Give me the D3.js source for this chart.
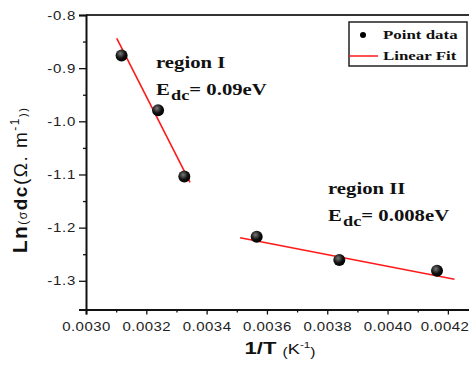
<!DOCTYPE html>
<html lang="en">
<head>
<meta charset="UTF-8">
<title>Ln sigma dc vs 1/T</title>
<script src="https://cdn.jsdelivr.net/npm/d3@7"></script>
<style>
  body { margin: 0; background: #fff; }
  svg { display: block; }
</style>
</head>
<body>
<svg id="chart"></svg>
<script>
// data
const xRegionI = [0.003118, 0.003239, 0.003326];
const yRegionI = [-0.876, -0.979, -1.104];
const xRegionII = [0.003566, 0.003840, 0.004164];
const yRegionII = [-1.217, -1.261, -1.281];
// ends of the two fitted lines
const fitIx = [0.003102, 0.003345];
const fitIy = [-0.844, -1.115];
const fitIIx = [0.003511, 0.004222];
const fitIIy = [-1.219, -1.297];
// ticks
const xTicks = [0.0030, 0.0032, 0.0034, 0.0036, 0.0038, 0.0040, 0.0042];
const xTickLabels = ["0.0030", "0.0032", "0.0034", "0.0036", "0.0038", "0.0040", "0.0042"];
const xMinor = [0.0031, 0.0033, 0.0035, 0.0037, 0.0039, 0.0041];
const yTicks = [-0.8, -0.9, -1.0, -1.1, -1.2, -1.3];
const yTickLabels = ["-0.8", "-0.9", "-1.0", "-1.1", "-1.2", "-1.3"];
const yMinor = [-0.85, -0.95, -1.05, -1.15, -1.25];

const W = 469, H = 366;
const svg = d3.select("#chart").attr("width", W).attr("height", H);

const x = d3.scaleLinear().domain([0.0030, 0.00428]).range([86, 472]);
const y = d3.scaleLinear().domain([-0.8, -1.354]).range([15, 309.5]);

// ball look for the points
const grad = svg.append("defs").append("radialGradient")
  .attr("id", "ball").attr("cx", "40%").attr("cy", "35%").attr("r", "65%");
grad.append("stop").attr("offset", "0%").attr("stop-color", "#777");
grad.append("stop").attr("offset", "60%").attr("stop-color", "#111");
grad.append("stop").attr("offset", "100%").attr("stop-color", "#000");

// frame top
svg.append("line").attr("x1", 86).attr("x2", 472).attr("y1", 15).attr("y2", 15)
  .attr("stroke", "#333").attr("stroke-width", 2);

const sx = 1.2; // the original looks stretched sideways

// x axis
const gx = svg.append("g").attr("transform", "translate(0," + y(-1.354) + ")");
gx.call(d3.axisBottom(x).tickValues(xTicks).tickSize(5).tickPadding(8)
  .tickFormat((d, i) => xTickLabels[i]));
gx.append("g").call(d3.axisBottom(x).tickValues(xMinor).tickSize(3).tickFormat(""))
  .select(".domain").remove();

// y axis
const gy = svg.append("g").attr("transform", "translate(" + x(0.0030) + ",0)");
gy.call(d3.axisLeft(y).tickValues(yTicks).tickSize(7).tickPadding(3)
  .tickFormat((d, i) => yTickLabels[i]));
gy.append("g").call(d3.axisLeft(y).tickValues(yMinor).tickSize(3).tickFormat(""))
  .select(".domain").remove();

svg.selectAll(".domain").attr("stroke", "#111").attr("stroke-width", 2);
svg.selectAll(".tick line").attr("stroke", "#111").attr("stroke-width", 1.3);

gx.selectAll(".tick text")
  .attr("font-family", "Arial, 'Liberation Sans', sans-serif")
  .attr("font-size", 12.5).attr("fill", "#222")
  .attr("letter-spacing", 0.4)
  .attr("transform", "scale(" + sx + ",1)");
// last label sits at the right edge of the picture
gx.selectAll(".tick text").filter((d, i) => i === xTicks.length - 1)
  .attr("text-anchor", "end").attr("x", 21 / sx);
gy.selectAll(".tick text")
  .attr("font-family", "Arial, 'Liberation Sans', sans-serif")
  .attr("font-size", 12.5).attr("fill", "#222")
  .attr("letter-spacing", 0.6)
  .attr("x", -10 / sx)
  .attr("transform", "scale(" + sx + ",1)");

// fitted lines
const line = d3.line().x(d => x(d[0])).y(d => y(d[1]));
[[fitIx, fitIy], [fitIIx, fitIIy]].forEach(function (f) {
  svg.append("path")
    .datum(d3.zip(f[0], f[1]))
    .attr("d", line)
    .attr("fill", "none")
    .attr("stroke", "#ff1a1a")
    .attr("stroke-width", 1.6);
});

// points
const pts = d3.zip(xRegionI.concat(xRegionII), yRegionI.concat(yRegionII));
svg.append("g").selectAll("circle")
  .data(pts)
  .enter().append("circle")
  .attr("cx", d => x(d[0]))
  .attr("cy", d => y(d[1]))
  .attr("r", 6)
  .attr("fill", "url(#ball)");

// annotations
const serif = "'Liberation Serif', 'Times New Roman', serif";
function note(tx, ty, build) {
  const t = svg.append("text")
    .attr("transform", "translate(" + tx + "," + ty + ") scale(1.22,1)")
    .attr("font-family", serif).attr("font-weight", "bold")
    .attr("font-size", 17).attr("fill", "#111");
  build(t);
}
note(156, 68, t => t.text("region I"));
note(156, 95, t => {
  t.append("tspan").text("E");
  t.append("tspan").attr("font-size", 15).attr("dy", 5).attr("dx", 1).text("dc");
  t.append("tspan").attr("dy", -5).text("= 0.09eV");
});
note(328, 194, t => t.text("region II"));
note(328, 221, t => {
  t.append("tspan").text("E");
  t.append("tspan").attr("font-size", 15).attr("dy", 5).attr("dx", 1).text("dc");
  t.append("tspan").attr("dy", -5).text("= 0.008eV");
});

// legend
const lg = svg.append("g");
lg.append("rect").attr("x", 349).attr("y", 22).attr("width", 118).attr("height", 44)
  .attr("fill", "#fff").attr("stroke", "#222").attr("stroke-width", 1.5);
lg.append("circle").attr("cx", 363).attr("cy", 35).attr("r", 3).attr("fill", "#000");
lg.append("line").attr("x1", 349).attr("x2", 378).attr("y1", 56).attr("y2", 56)
  .attr("stroke", "#ff1a1a").attr("stroke-width", 1.5);
["Point data", "Linear Fit"].forEach(function (s, i) {
  lg.append("text")
    .attr("transform", "translate(383," + (39 + i * 21) + ") scale(1.3,1)")
    .attr("font-family", serif).attr("font-weight", "bold")
    .attr("font-size", 13).attr("fill", "#111").text(s);
});

// axis titles
const xt = svg.append("text")
  .attr("transform", "translate(280,354) scale(1.3,1)")
  .attr("text-anchor", "middle")
  .attr("font-family", "Arial, 'Liberation Sans', sans-serif")
  .attr("font-weight", "bold").attr("fill", "#111");
xt.append("tspan").attr("font-size", 17).text("1/T ");
xt.append("tspan").attr("font-size", 12).attr("font-weight", "normal").attr("dy", 2).text("(");
xt.append("tspan").attr("font-size", 14).attr("font-weight", "normal").attr("dy", -2).text("K");
xt.append("tspan").attr("font-size", 9).attr("font-weight", "normal").attr("dy", -6).text("-1");
xt.append("tspan").attr("font-size", 12).attr("font-weight", "normal").attr("dy", 8).text(")");

const yt = svg.append("text")
  .attr("transform", "translate(27,180) rotate(-90)")
  .attr("text-anchor", "middle")
  .attr("font-family", "Arial, 'Liberation Sans', sans-serif")
  .attr("font-weight", "bold").attr("fill", "#111")
  .attr("letter-spacing", 1.5);
yt.append("tspan").attr("font-size", 21).text("Ln");
yt.append("tspan").attr("font-size", 12).attr("font-weight", "normal").text("(σ");
yt.append("tspan").attr("font-size", 19).text("dc");
yt.append("tspan").attr("font-size", 19).attr("font-weight", "normal").text("(Ω. m");
yt.append("tspan").attr("font-size", 12).attr("font-weight", "normal").attr("dy", -8).text("-1");
yt.append("tspan").attr("font-size", 11).attr("font-weight", "normal").attr("dy", 8).text("))");
</script>
</body>
</html>
